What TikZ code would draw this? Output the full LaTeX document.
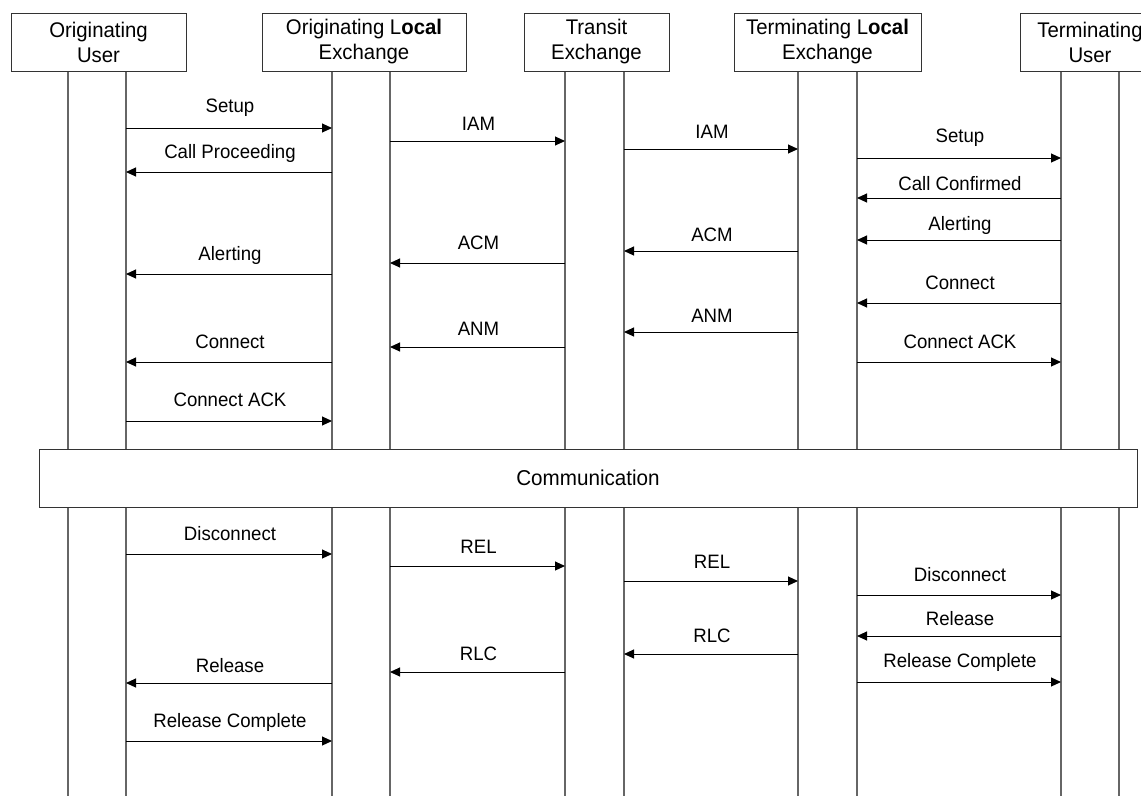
\documentclass[tikz,border=0pt]{standalone}
\usepackage{fontspec}
\setmainfont[FakeStretch=0.96]{Liberation Sans}
\usetikzlibrary{arrows.meta,calc}
\newcommand{\sqmsg}[5]{%
  \draw[msgline] (#1 |- 0,#3) -- (#2 |- 0,#3);
  \path let \p1=(#1), \p2=(#2) in node[msglabel] at ({(\x1+\x2)/2+1pt},{-#4pt}) {#5};
}
\begin{document}
\begin{tikzpicture}[x=1pt,y=-1pt,
  hdr/.style={draw=black!80,line width=1pt,fill=white,align=center,
    font=\fontsize{21.2}{25}\selectfont,inner sep=0pt,minimum height=58pt},
  life/.style={draw=black!60,line width=1.2pt},
  msgline/.style={draw=black,line width=1pt,-{Triangle[length=10pt,width=9pt]}},
  msglabel/.style={font=\fontsize{19.4}{22}\selectfont,inner sep=0pt}]
\useasboundingbox (0,0) rectangle (1141,796);
\clip (0,0) rectangle (1141,796);
\fill[white] (0,0) rectangle (1141,796);

% lifeline anchors
\coordinate (ou1) at (68,71);
\coordinate (ou2) at (126,71);
\coordinate (ol1) at (332,71);
\coordinate (ol2) at (390,71);
\coordinate (tr1) at (565,71);
\coordinate (tr2) at (624,71);
\coordinate (tl1) at (798,71);
\coordinate (tl2) at (857,71);
\coordinate (tu1) at (1061,71);
\coordinate (tu2) at (1119,71);

\foreach \c in {ou1,ou2,ol1,ol2,tr1,tr2,tl1,tl2,tu1,tu2}{
  \draw[life] (\c) -- (\c |- 0,796);
}

% headers
\node[hdr,minimum width=175pt] (hOU) at (98.5,42) {Originating\\User};
\node[hdr,minimum width=204pt] (hOL) at (364,42) {Originating L\textbf{ocal}\\Exchange};
\node[hdr,minimum width=145pt] (hTR) at (596.5,42) {Transit\\Exchange};
\node[hdr,minimum width=187pt] (hTL) at (827.5,42) {Terminating L\textbf{ocal}\\Exchange};
\node[hdr,minimum width=140pt] (hTU) at (1090,42) {Terminating\\User};

% communication
\node[draw=black!80,line width=1pt,fill=white,minimum width=1098pt,minimum height=58pt,
  inner sep=0pt,font=\fontsize{21.5}{25}\selectfont] (comm) at (588,478) {Communication};

% top messages
\sqmsg{ou2}{ol1}{128}{108}{Setup}
\sqmsg{ol1}{ou2}{172}{153}{Call Proceeding}
\sqmsg{ol1}{ou2}{274}{255}{Alerting}
\sqmsg{ol1}{ou2}{362}{342}{Connect}
\sqmsg{ou2}{ol1}{421}{400}{Connect ACK}
\sqmsg{ol2}{tr1}{141}{124}{IAM}
\sqmsg{tr1}{ol2}{263}{243}{ACM}
\sqmsg{tr1}{ol2}{347}{329}{ANM}
\sqmsg{tr2}{tl1}{149}{132}{IAM}
\sqmsg{tl1}{tr2}{251}{235}{ACM}
\sqmsg{tl1}{tr2}{332}{316}{ANM}
\sqmsg{tl2}{tu1}{158}{138}{Setup}
\sqmsg{tu1}{tl2}{198}{184}{Call Confirmed}
\sqmsg{tu1}{tl2}{240}{225}{Alerting}
\sqmsg{tu1}{tl2}{303}{283}{Connect}
\sqmsg{tl2}{tu1}{362}{342}{Connect ACK}

% bottom messages
\sqmsg{ou2}{ol1}{554}{534}{Disconnect}
\sqmsg{ol1}{ou2}{683}{666}{Release}
\sqmsg{ou2}{ol1}{741}{722}{Release Complete}
\sqmsg{ol2}{tr1}{566}{547}{REL}
\sqmsg{tr1}{ol2}{672}{654}{RLC}
\sqmsg{tr2}{tl1}{581}{562}{REL}
\sqmsg{tl1}{tr2}{654}{636}{RLC}
\sqmsg{tl2}{tu1}{595}{575}{Disconnect}
\sqmsg{tu1}{tl2}{636}{619}{Release}
\sqmsg{tl2}{tu1}{682}{662}{Release Complete}
\end{tikzpicture}
\end{document}
